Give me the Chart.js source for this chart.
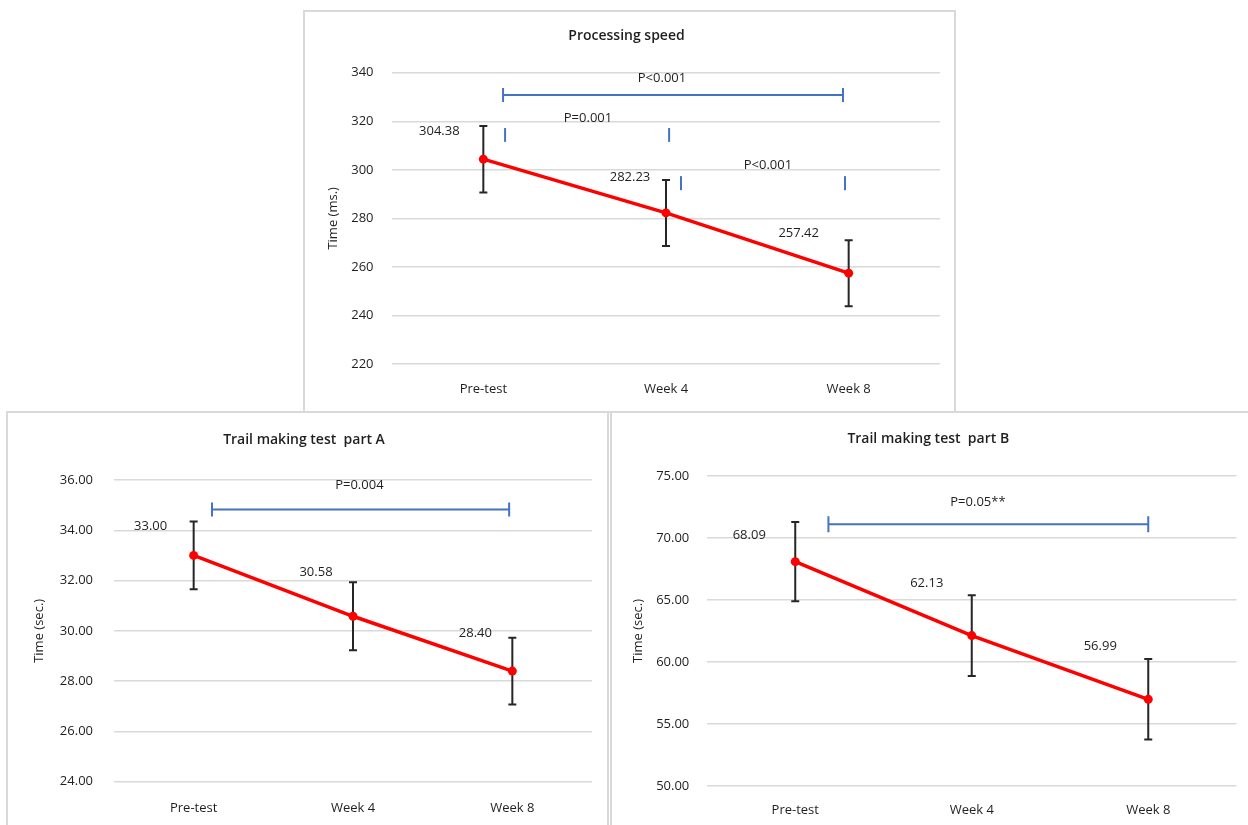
<!DOCTYPE html>
<html>
<head>
<meta charset="utf-8">
<script src="https://cdn.jsdelivr.net/npm/chart.js@4.4.1/dist/chart.umd.min.js"></script>
<style>
  html, body { margin: 0; padding: 0; background: #fff; overflow: hidden; }
  body { width: 1248px; height: 825px; position: relative; }
  .frame { position: absolute; border: 2px solid #d9d9d9; background: #fff; box-sizing: border-box; }
  .frame canvas { position: absolute; left: 0; top: 0; }
</style>
</head>
<body>
<div class="frame" style="left:303px;top:10px;width:653px;height:403px"><canvas id="speedChart" width="649" height="399"></canvas></div>
<div class="frame" style="left:6px;top:411px;width:603px;height:420px"><canvas id="trailAChart" width="599" height="412"></canvas></div>
<div class="frame" style="left:610px;top:411px;width:700px;height:420px"><canvas id="trailBChart" width="636" height="412"></canvas></div>
<script>
// data
const categories = ['Pre-test', 'Week 4', 'Week 8'];

const speedMeans = [304.38, 282.23, 257.42];
const speedSD = [13.7, 13.6, 13.6];
const speedTicks = [220, 240, 260, 280, 300, 320, 340];

const trailAMeans = [33.00, 30.58, 28.40];
const trailASD = [1.35, 1.35, 1.33];
const trailATicks = [24, 26, 28, 30, 32, 34, 36];

const trailBMeans = [68.09, 62.13, 56.99];
const trailBSD = [3.2, 3.25, 3.25];
const trailBTicks = [50, 55, 60, 65, 70, 75];

const RED = 'rgb(255, 0, 0)';
const BLUE = '#4472c4';
const TEXT = '#1f1f1f';

Chart.defaults.font.family = '"Open Sans", "DejaVu Sans", sans-serif';

// error bars, significance brackets and value labels, placed through the chart scales
function annotations(o) {
  return {
    id: 'annotations',
    beforeDatasetsDraw(chart) {
      const { ctx, scales: { x, y } } = chart;
      ctx.save();
      ctx.strokeStyle = '#262626';
      ctx.lineWidth = 2;
      o.means.forEach((m, i) => {
        const px = x.getPixelForValue(i);
        const top = y.getPixelForValue(m + o.sd[i]);
        const bot = y.getPixelForValue(m - o.sd[i]);
        ctx.beginPath();
        ctx.moveTo(px, top); ctx.lineTo(px, bot);
        ctx.moveTo(px - 4, top); ctx.lineTo(px + 4, top);
        ctx.moveTo(px - 4, bot); ctx.lineTo(px + 4, bot);
        ctx.stroke();
      });
      ctx.restore();
    },
    afterDatasetsDraw(chart) {
      const { ctx, scales: { x, y } } = chart;
      ctx.save();
      ctx.strokeStyle = BLUE;
      ctx.lineWidth = 2;
      o.brackets.forEach(b => {
        const x1 = x.getPixelForValue(b.from), x2 = x.getPixelForValue(b.to);
        const py = y.getPixelForValue(b.y);
        ctx.beginPath();
        ctx.moveTo(x1, py); ctx.lineTo(x2, py);
        ctx.moveTo(x1, py - b.cap); ctx.lineTo(x1, py + b.cap);
        ctx.moveTo(x2, py - b.cap); ctx.lineTo(x2, py + b.cap);
        ctx.stroke();
      });
      (o.marks || []).forEach(t => {
        const px = x.getPixelForValue(t.x);
        ctx.beginPath();
        ctx.moveTo(px, y.getPixelForValue(t.y1));
        ctx.lineTo(px, y.getPixelForValue(t.y2));
        ctx.stroke();
      });
      ctx.fillStyle = TEXT;
      ctx.textAlign = 'center';
      ctx.textBaseline = 'middle';
      ctx.font = '13px "Open Sans", sans-serif';
      o.pLabels.forEach(p => {
        ctx.fillText(p.text, x.getPixelForValue(p.x), y.getPixelForValue(p.y));
      });
      o.means.forEach((m, i) => {
        const [dx, dy] = o.labelOffsets[i];
        ctx.fillText(m.toFixed(2), x.getPixelForValue(i) + dx, y.getPixelForValue(m) + dy);
      });
      ctx.restore();
    }
  };
}

function buildChart(id, o) {
  return new Chart(document.getElementById(id), {
    type: 'line',
    data: {
      labels: categories,
      datasets: [{
        data: o.means,
        borderColor: RED,
        backgroundColor: RED,
        borderWidth: 3.5,
        pointRadius: 4.5,
        pointBorderWidth: 0,
        pointBackgroundColor: RED,
        tension: 0
      }]
    },
    options: {
      responsive: false,
      animation: false,
      layout: { padding: { left: 8, right: o.padRight, top: 0, bottom: 5 } },
      plugins: {
        legend: { display: false },
        tooltip: { enabled: false },
        title: {
          display: true,
          text: o.title,
          color: TEXT,
          font: { size: 14, weight: '600' },
          padding: { top: o.titleTop, bottom: o.titleBottom }
        }
      },
      scales: {
        x: {
          offset: true,
          grid: { display: false },
          border: { display: false },
          ticks: { padding: o.xPad, color: TEXT, font: { size: 13 } },
          afterFit: s => { s.height = o.xHeight; }
        },
        y: {
          min: o.ticks[0],
          max: o.ticks[o.ticks.length - 1],
          afterBuildTicks: s => { s.ticks = o.ticks.map(v => ({ value: v })); },
          grid: { color: '#d9d9d9', lineWidth: 1.5, drawTicks: false },
          border: { display: false },
          ticks: { padding: o.yPad, color: TEXT, font: { size: 13 }, callback: v => v.toFixed(o.decimals) },
          title: { display: true, text: o.yTitle, color: TEXT, font: { size: 13 }, padding: { top: o.yTitlePad, bottom: 0 } },
          afterFit: s => { s.width = o.yWidth; }
        }
      }
    },
    plugins: [annotations(o)]
  });
}

buildChart('speedChart', {
  title: 'Processing speed',
  yTitle: 'Time (ms.)',
  means: speedMeans, sd: speedSD, ticks: speedTicks, decimals: 0,
  titleTop: 15.6, titleBottom: 28.3, padRight: 14, xHeight: 42, xPad: 9,
  yWidth: 79, yPad: 18.5, yTitlePad: 12.2,
  brackets: [{ from: 0.108, to: 1.969, y: 330.8, cap: 7 }],
  marks: [
    { x: 0.119, y1: 317.2, y2: 311.5 }, { x: 1.017, y1: 317.2, y2: 311.5 },
    { x: 1.082, y1: 297.4, y2: 291.6 }, { x: 1.98, y1: 297.4, y2: 291.6 }
  ],
  pLabels: [
    { text: 'P<0.001', x: 0.978, y: 337.5 },
    { text: 'P=0.001', x: 0.573, y: 321.3 },
    { text: 'P<0.001', x: 1.558, y: 302 }
  ],
  labelOffsets: [[-44, -28], [-36, -36], [-50, -40]]
});

buildChart('trailAChart', {
  title: 'Trail making test  part A',
  yTitle: 'Time (sec.)',
  means: trailAMeans, sd: trailASD, ticks: trailATicks, decimals: 2,
  titleTop: 18.6, titleBottom: 31.6, padRight: 15, xHeight: 38.3, xPad: 10.5,
  yWidth: 98, yPad: 21, yTitlePad: 15.2,
  brackets: [{ from: 0.115, to: 1.98, y: 34.83, cap: 7 }],
  pLabels: [{ text: 'P=0.004', x: 1.04, y: 35.8 }],
  labelOffsets: [[-43, -29], [-37, -44], [-37, -38]]
});

buildChart('trailBChart', {
  title: 'Trail making test  part B',
  yTitle: 'Time (sec.)',
  means: trailBMeans, sd: trailBSD, ticks: trailBTicks, decimals: 2,
  titleTop: 17.6, titleBottom: 28.6, padRight: 11.5, xHeight: 34, xPad: 8.2,
  yWidth: 87, yPad: 17.7, yTitlePad: 10.7,
  brackets: [{ from: 0.188, to: 2.0, y: 71.1, cap: 8 }],
  pLabels: [{ text: 'P=0.05**', x: 1.035, y: 72.9 }],
  labelOffsets: [[-46, -26], [-45, -52], [-48, -53]]
});
</script>
</body>
</html>
